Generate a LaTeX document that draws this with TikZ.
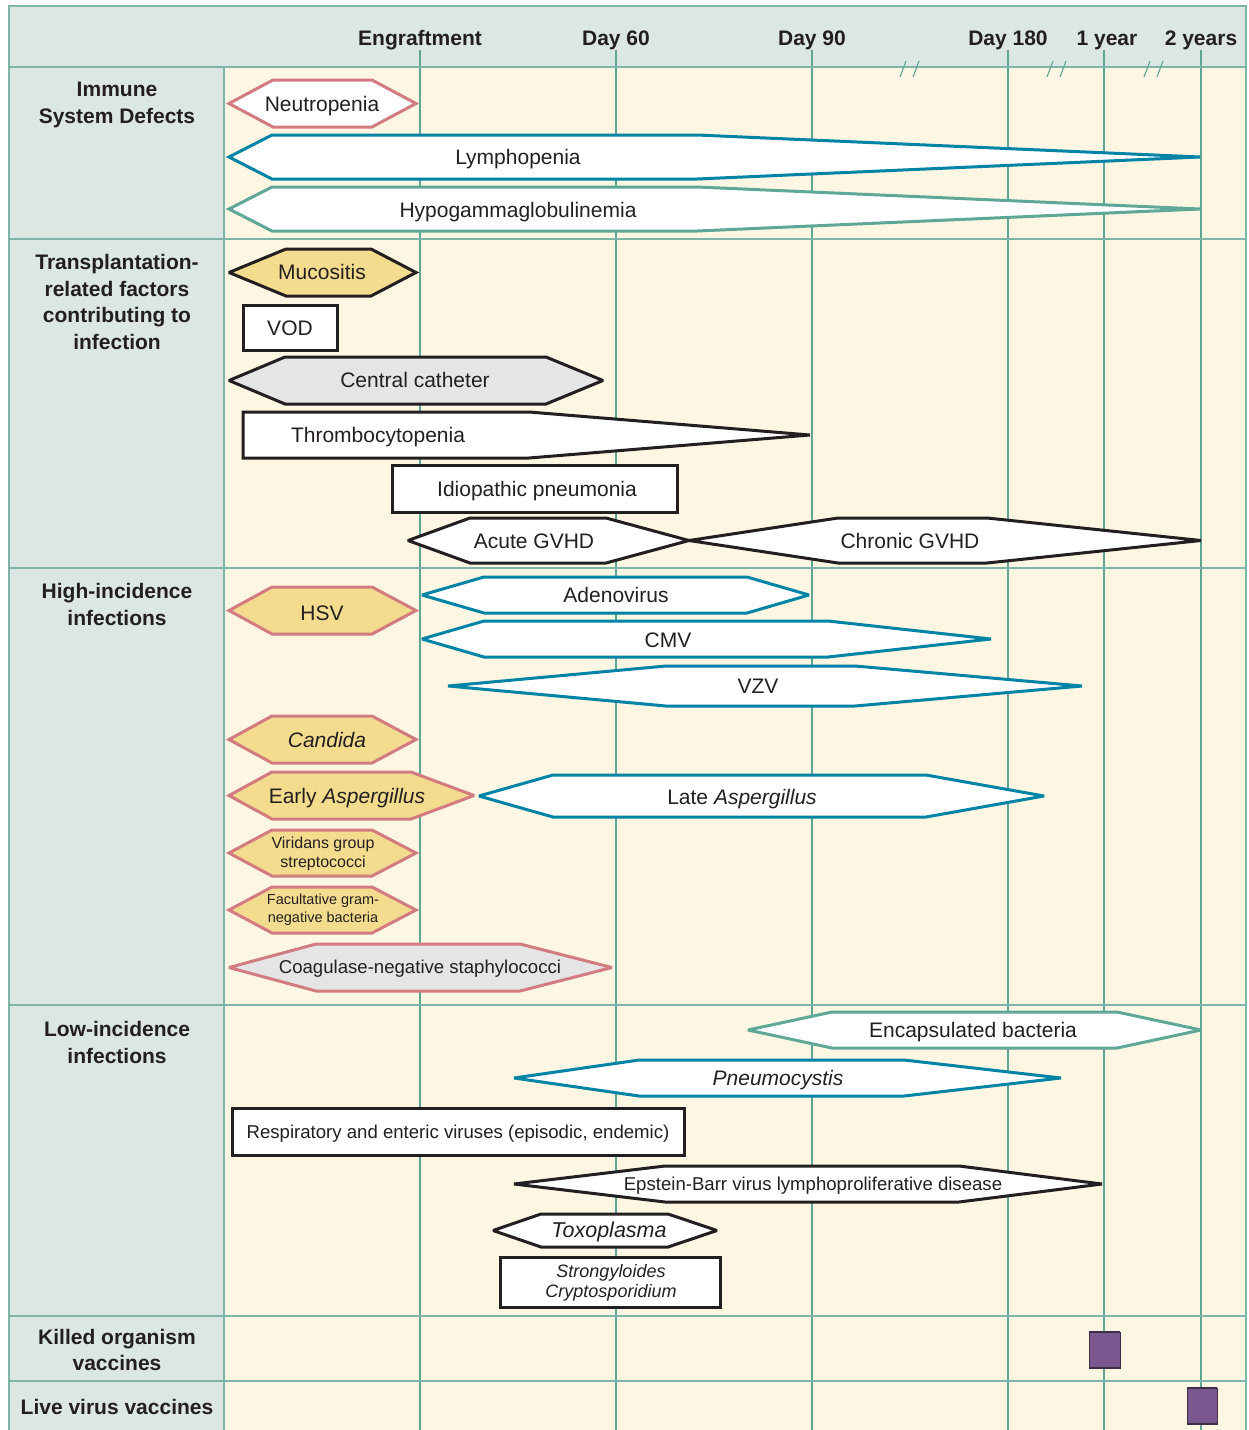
\documentclass[tikz,border=0pt]{standalone}
\usepackage{fontspec}
\setmainfont{Liberation Sans}
\definecolor{cframe}{HTML}{7DB6A8}
\definecolor{cgrid}{HTML}{5FA594}
\definecolor{cside}{HTML}{DCE7E3}
\definecolor{cbody}{HTML}{FCF6E2}
\definecolor{cpink}{HTML}{D27B80}
\definecolor{cblue}{HTML}{0084A6}
\definecolor{cteal}{HTML}{5FA898}
\definecolor{cyel}{HTML}{F4DC8F}
\definecolor{cgray}{HTML}{E5E5E6}
\definecolor{cblk}{HTML}{231F20}
\definecolor{cpurp}{HTML}{7B5790}
\definecolor{cpurpd}{HTML}{3E2E48}
\tikzset{
  hx/.style={line width=3pt, line join=miter, miter limit=2.5},
  pinkw/.style={hx, draw=cpink, fill=white},
  pinky/.style={hx, draw=cpink, fill=cyel},
  pinkg/.style={hx, draw=cpink, fill=cgray},
  bluew/.style={hx, draw=cblue, fill=white},
  tealw/.style={hx, draw=cteal, fill=white},
  blkw/.style={hx, draw=cblk, fill=white},
  blky/.style={hx, draw=cblk, fill=cyel},
  blkg/.style={hx, draw=cblk, fill=cgray},
  lbl/.style={font=\fontsize{21}{24}\selectfont, text=cblk, inner sep=0pt, text height=15pt, text depth=0pt},
  slbl/.style={font=\fontsize{18.6}{22}\selectfont, text=cblk, inner sep=0pt, text height=13.3pt, text depth=0pt},
  tlbl/.style={font=\fontsize{16}{18.5}\selectfont, text=cblk, inner sep=0pt, align=center},
  hdr/.style={font=\bfseries\fontsize{21}{24}\selectfont, text=cblk, inner sep=0pt, text height=15pt, text depth=0pt},
  sec/.style={font=\bfseries\fontsize{21}{26.5}\selectfont, text=cblk, inner sep=0pt, align=center},
  gridl/.style={draw=cgrid, line width=1.1pt},
  secl/.style={draw=cframe, line width=2.6pt},
  brk/.style={draw=cgrid, line width=1.1pt},
  vacc/.style={fill=cpurp, draw=cpurpd, line width=0.8pt},
}
\newcommand{\hexbar}[7]{\draw[#1] (#2,{(#6+#7)/2}) -- (#3,#6) -- (#4,#6) -- (#5,{(#6+#7)/2}) -- (#4,#7) -- (#3,#7) -- cycle;}
\newcommand{\brkmark}[1]{\draw[brk] ({#1-10},77) -- ({#1-4},61) ({#1+3},77) -- ({#1+9},61);}
\begin{document}
\begin{tikzpicture}[x=1pt,y=-1pt]
\useasboundingbox (0,0) rectangle (1249,1430);
% backgrounds
\fill[cside] (9,6) rectangle (1246,1432);
\fill[cbody] (224,67) rectangle (1246,1432);
% grid lines
\foreach \gx in {420,616,812,1008,1104,1201} {
  \draw[gridl] (\gx,50) -- (\gx,1432);
}
% section lines
\draw[secl] (9,67) -- (1246,67);
\foreach \sy in {239,568,1005,1316,1381} {
  \draw[secl] (9,\sy) -- (1246,\sy);
}
\draw[draw=cframe, line width=2pt] (224,67) -- (224,1432);
\draw[draw=cframe, line width=2.6pt] (9,1432) -- (9,6) -- (1246,6) -- (1246,1432);
% break marks
\brkmark{910}
\brkmark{1057}
\brkmark{1154}
% header labels
\node[hdr] (hEng) at (420,38) {Engraftment};
\node[hdr] (hD60) at (616,38) {Day 60};
\node[hdr] (hD90) at (812,38) {Day 90};
\node[hdr] (hD180) at (1008,38) {Day 180};
\node[hdr] (h1y) at (1107,38) {1 year};
\node[hdr] (h2y) at (1201,38) {2 years};
% section labels
\node[sec] (sImm) at (117,105) {Immune\\System Defects};
\node[sec] (sTra) at (117,302) {Transplantation-\\related factors\\contributing to\\infection};
\node[sec] (sHigh) at (117,604.5) {High-incidence\\infections};
\node[sec] (sLow) at (117,1042.3) {Low-incidence\\infections};
\node[sec] (sKill) at (117,1350.2) {Killed organism\\vaccines};
\node[sec, text height=15pt, text depth=0pt] (sLive) at (117,1407) {Live virus vaccines};
% Immune system defects
\hexbar{pinkw}{229}{273}{372}{416}{80}{127}
\node[lbl] (neut) at (322,104) {Neutropenia};
\hexbar{bluew}{229}{272}{697}{1200}{135}{179}
\node[lbl] (lymph) at (518,157) {Lymphopenia};
\hexbar{tealw}{229}{272}{697}{1200}{187}{231}
\node[lbl] (hypo) at (518,210) {Hypogammaglobulinemia};
% Transplantation-related factors
\hexbar{blky}{229}{286}{371}{416}{249}{296}
\node[lbl] (muco) at (322,272) {Mucositis};
\draw[hx, draw=cblk, fill=white] (243,305) rectangle (337,350);
\node[lbl] (vod) at (290,328) {VOD};
\hexbar{blkg}{229}{285}{546}{603}{357}{404}
\node[lbl] (cath) at (415,380) {Central catheter};
\draw[blkw] (243,412) -- (529,412) -- (810,435) -- (529,458) -- (243,458) -- cycle;
\node[lbl] (thromb) at (378,435) {Thrombocytopenia};
\draw[hx, draw=cblk, fill=white] (392,465) rectangle (677,512);
\node[lbl] (idio) at (537,489) {Idiopathic pneumonia};
\hexbar{blkw}{689}{838}{987}{1201}{518}{563}
\hexbar{blkw}{408}{470}{606}{689}{518}{563}
\node[lbl] (agvhd) at (534,541) {Acute GVHD};
\node[lbl] (cgvhd) at (910,541) {Chronic GVHD};
% High-incidence infections
\hexbar{pinky}{229}{272}{372}{416}{587}{634}
\node[lbl] (hsv) at (322,613) {HSV};
\hexbar{bluew}{422}{484}{747}{809}{577}{613}
\node[lbl] (adeno) at (616,595) {Adenovirus};
\hexbar{bluew}{422}{484}{828}{991}{621}{657}
\node[lbl] (cmv) at (668,640) {CMV};
\hexbar{bluew}{448}{666}{855}{1082}{666}{706}
\node[lbl] (vzv) at (758,686) {VZV};
\hexbar{pinky}{229}{272}{372}{416}{716}{763}
\node[lbl] (cand) at (327,740) {\itshape Candida};
\hexbar{pinky}{229}{272}{411}{474}{772}{819}
\node[lbl] (easp) at (347,796) {Early \itshape Aspergillus};
\hexbar{bluew}{479}{553}{926}{1044}{775}{817}
\node[lbl] (lasp) at (742,797) {Late \itshape Aspergillus};
\hexbar{pinky}{229}{272}{372}{416}{830}{876}
\node[tlbl] (virid) at (323,854) {Viridans group\\streptococci};
\hexbar{pinky}{229}{272}{372}{416}{887}{933}
\node[tlbl, font=\fontsize{14.5}{18}\selectfont] (facult) at (323,910) {Facultative gram-\\negative bacteria};
\hexbar{pinkg}{229}{316}{520}{612}{944}{991}
\node[slbl] (coag) at (420,967) {Coagulase-negative staphylococci};
% Low-incidence infections
\hexbar{tealw}{748}{832}{1117}{1201}{1012}{1048}
\node[lbl] (encap) at (973,1030) {Encapsulated bacteria};
\hexbar{bluew}{514}{639}{904}{1061}{1060}{1096}
\node[lbl] (pneumo) at (778,1078) {\itshape Pneumocystis};
\draw[hx, draw=cblk, fill=white] (232,1108) rectangle (684,1155);
\node[slbl] (resp) at (458,1132) {Respiratory and enteric viruses (episodic, endemic)};
\hexbar{blkw}{514}{665}{959}{1102}{1166}{1202}
\node[slbl] (ebv) at (813,1184) {Epstein-Barr virus lymphoproliferative disease};
\hexbar{blkw}{493}{541}{668}{717}{1214}{1247}
\node[lbl, font=\fontsize{21.5}{24}\selectfont] (toxo) at (609,1230) {\itshape Toxoplasma};
\draw[hx, draw=cblk, fill=white] (500,1257) rectangle (720,1307);
\node[tlbl, font=\itshape\fontsize{18}{20.5}\selectfont] (strong) at (611,1283) {Strongyloides\\Cryptosporidium};
% vaccines
\draw[vacc] (1089,1332) rectangle (1120,1368);
\draw[cpurpd, line width=2pt] (1089,1332) -- (1120,1332) (1089,1368) -- (1120,1368);
\draw[vacc] (1187,1388) rectangle (1217,1424);
\draw[cpurpd, line width=2pt] (1187,1388) -- (1217,1388) (1187,1424) -- (1217,1424);
\coordinate (killbox) at (1104,1350);
\coordinate (livebox) at (1202,1406);
\end{tikzpicture}
\end{document}
